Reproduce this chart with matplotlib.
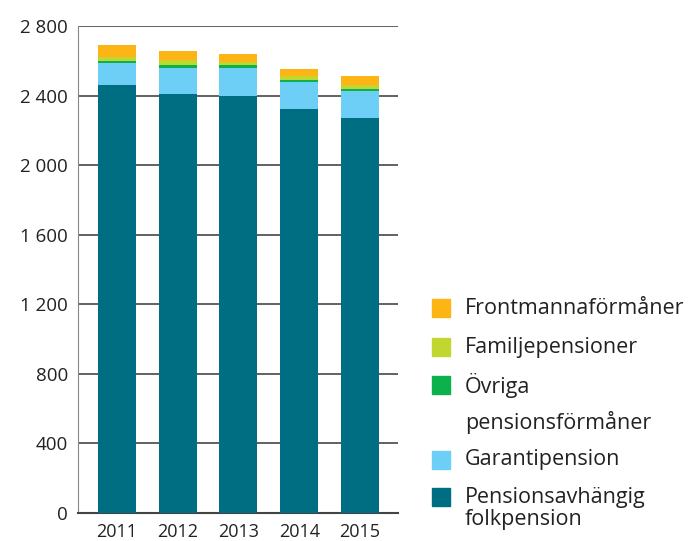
import numpy as np
import matplotlib
matplotlib.use('Agg')
import matplotlib.pyplot as plt
from matplotlib.patches import Rectangle

plt.rcParams['font.family'] = ['Open Sans', 'DejaVu Sans']

years = ['2011', '2012', '2013', '2014', '2015']
pensionsavhangig = [2461, 2409, 2398, 2323, 2271]
garantipension = [127, 150, 161, 156, 156]
ovriga = [11, 17, 17, 11, 11]
familjepensioner = [23, 31, 17, 25, 23]
frontmanna = [69, 50, 46, 38, 52]

series = [
    (pensionsavhangig, '#006e82'),
    (garantipension, '#6dcff6'),
    (ovriga, '#0db14b'),
    (familjepensioner, '#c1d72f'),
    (frontmanna, '#fdb515'),
]

fig = plt.figure(figsize=(6.96, 5.41), dpi=100)
ax = fig.add_axes([0.112, 0.052, 0.460, 0.900])

x = np.arange(len(years))
bottom = np.zeros(len(years))
for vals, col in series:
    ax.bar(x, vals, width=0.625, bottom=bottom, color=col, zorder=3)
    bottom += np.array(vals)

ax.set_xlim(-0.64, 4.625)
ax.set_ylim(0, 2800)
yt = np.arange(0, 2801, 400)
ax.set_yticks(yt)
ax.set_yticklabels(['{:,}'.format(v).replace(',', ' ') for v in yt], fontsize=13.5, color='#222222')
ax.set_xticks(x)
ax.set_xticklabels(years, fontsize=13, color='#222222')
ax.tick_params(length=0, pad=7)
ax.tick_params(axis='x', pad=7)
ax.yaxis.grid(True, color='#555555', linewidth=1.3, zorder=1)
for s in ['top', 'right']:
    ax.spines[s].set_visible(False)
ax.spines['left'].set_color('#888888')
ax.spines['bottom'].set_color('#444444')
ax.spines['bottom'].set_linewidth(1.5)

# legend drawn by hand (uneven spacing in the original)
W, H = 696.0, 541.0
fs = 15.5
rows = [(308, 'Frontmannaförmåner', '#fdb515'),
        (347, 'Familjepensioner', '#c1d72f'),
        (385, 'Övriga', '#0db14b'),
        (460, 'Garantipension', '#6dcff6'),
        (497, 'Pensionsavhängig', '#006e82')]
for yc, lab, col in rows:
    fig.add_artist(Rectangle((432 / W, 1 - (yc + 9) / H), 18 / W, 18 / H,
                             color=col, transform=fig.transFigure))
    fig.text(465 / W, 1 - yc / H, lab, fontsize=fs, color='#222222', va='center')
fig.text(465 / W, 1 - 423 / H, 'pensionsförmåner', fontsize=fs, color='#222222', va='center')
fig.text(465 / W, 1 - 520 / H, 'folkpension', fontsize=fs, color='#222222', va='center')

fig.savefig('out.png', dpi=100)
